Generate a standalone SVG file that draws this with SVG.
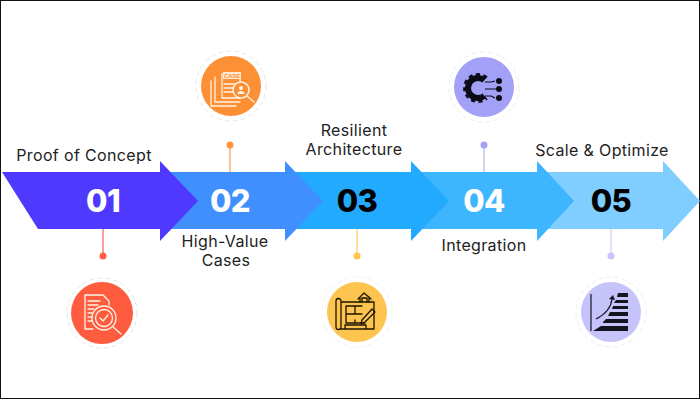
<svg xmlns="http://www.w3.org/2000/svg" width="700" height="400" viewBox="0 0 700 400">
<style>
.lbl{font-family:"Inter","Noto Sans",sans-serif;font-size:16px;letter-spacing:.35px;fill:#222;text-anchor:middle}
.num{font-family:"Inter","Noto Sans",sans-serif;font-size:31px;font-weight:800;letter-spacing:-.6px;text-anchor:middle}
.ring{fill:none;stroke:#e6e6e6;stroke-width:1;stroke-dasharray:5 3}
.lw{fill:none;stroke:#fff3e6;stroke-width:1.3;stroke-linejoin:round;stroke-linecap:round}
.lk{fill:none;stroke:#1c1400;stroke-width:1.3;stroke-linejoin:round;stroke-linecap:round}
</style>
<rect x="0.5" y="0.5" width="699" height="398" fill="#fff" stroke="#111"/>
<g id="connectors" stroke-width="1.2">
<path d="M103 229V256" stroke="#f2644c"/><circle cx="103" cy="256" r="3.5" fill="#ff5f45"/>
<path d="M230 172V145" stroke="#fb9a48"/><circle cx="230" cy="145" r="3.5" fill="#fd9540"/>
<path d="M357 229V256" stroke="#fdca5c"/><circle cx="357" cy="256" r="3.5" fill="#fdc650"/>
<path d="M484 172V145" stroke="#b5b2f8"/><circle cx="484" cy="145" r="3.5" fill="#a5a2f6"/>
<path d="M611 229V256" stroke="#cfcdfb"/><circle cx="611" cy="256" r="3.5" fill="#c6c4fa"/>
</g>
<g id="node5"><path d="M540 172H663V161L700 201L663 241V229H540Z" fill="#80ceff"/><text class="num" x="611" y="212" fill="#000">05</text><text class="lbl" x="602" y="156">Scale &amp; Optimize</text></g>
<g id="node4"><path d="M415 172H537V161L574 201L537 241V229H415Z" fill="#3db5ff"/><text class="num" x="484" y="212" fill="#fff">04</text><text class="lbl" x="484" y="251">Integration</text></g>
<g id="node3"><path d="M290 172H411V161L449 201L411 241V229H290Z" fill="#22aaff"/><text class="num" x="357" y="212" fill="#000">03</text><text class="lbl" x="354" y="136">Resilient</text><text class="lbl" x="354" y="155">Architecture</text></g>
<g id="node2"><path d="M165 172H285V161L323 201L285 241V229H165Z" fill="#3f8fff"/><text class="num" x="230" y="212" fill="#fff">02</text><text class="lbl" x="225" y="247">High-Value</text><text class="lbl" x="226" y="266">Cases</text></g>
<g id="node1"><path d="M2 172H160V161L198 201L160 241V229H38Z" fill="#4f39ff"/><text class="num" x="103" y="212" fill="#fff">01</text><text class="lbl" x="84" y="161">Proof of Concept</text></g>
<g id="icon1"><circle class="ring" cx="102" cy="313" r="35"/><circle cx="102" cy="313" r="31" fill="#ff5c3f"/>
<path class="lw" d="M85 295H103L109 301V305M85 295V329H93M88 301H100M88 305H98M88 309H94M88 313H92M88 317H92M88 321H92"/>
<circle class="lw" cx="104" cy="318" r="12"/><circle class="lw" cx="104" cy="318" r="8.5"/><path class="lw" d="M100 318L103 321L108 315M113 327L121 334"/></g>
<g id="icon2"><circle class="ring" cx="231" cy="86" r="35"/><circle cx="231" cy="86" r="30" fill="#fd8f35"/>
<path class="lw" d="M211 81V106H236M215 77V102H240M222 74V98H240V75H222"/>
<rect x="223" y="72" width="18" height="7" fill="#ffe9d2"/><text x="232" y="78" font-family="Liberation Sans,sans-serif" font-size="6" font-weight="700" fill="#fd8f35" text-anchor="middle">CASE</text>
<path class="lw" d="M224 84H236M224 88H236M224 92H234"/><circle cx="241" cy="90" r="8" fill="#fd8f35" stroke="#fff3e6" stroke-width="1.5"/><circle cx="241" cy="88" r="2" fill="#fff3e6"/><path d="M237.500 94a3.500 3 0 0 1 7 0Z" fill="#fff3e6"/><path class="lw" stroke-width="2" d="M247 96L254 102"/></g>
<g id="icon3"><circle class="ring" cx="357" cy="312" r="35" style="stroke:#f2f2f2"/><circle cx="357" cy="312" r="30" fill="#fdc44f"/>
<path class="lk" d="M341 301a2.500 2.500 0 0 0-5 0V327a2.500 2.500 0 0 0 5 0V302H374V329H340M346 306H362M346 306V323M355 306V314M346 314H362M355 320V323M346 323H365M345 325H366V329H345Z"/>
<path class="lk" d="M358 299L364 293L371 299M360 297V302M369 297V302M362 302V298H367V302"/>
<path class="lk" d="M362 320L372 309L375 312L365 322L361 324Z"/></g>
<g id="icon4"><circle class="ring" cx="484" cy="87" r="35" style="stroke:#eeeeee"/><circle cx="484" cy="87" r="30" fill="#a3a0f7"/>
<path d="M484.400 80.300A10 10 0 1 0 484.400 95.700" fill="none" stroke="#0c0c18" stroke-width="6"/>
<path d="M486.700 77.600A13.500 13.500 0 1 0 486.700 98.400" fill="none" stroke="#0c0c18" stroke-width="3" stroke-dasharray="4 3.400"/>
<path d="M485 82H491L495 81M485 89H496M485 96H491L495 98" fill="none" stroke="#0c0c18" stroke-width="1.200"/>
<circle cx="499" cy="81" r="3" fill="#0c0c18"/><circle cx="499" cy="89" r="3" fill="#0c0c18"/><circle cx="499" cy="98" r="3" fill="#0c0c18"/></g>
<g id="icon5"><circle class="ring" cx="611" cy="312" r="35" style="stroke:#eeeeee"/><circle cx="611" cy="312" r="30" fill="#c5c3fa"/>
<path d="M591 294V331" fill="none" stroke="#15151f" stroke-width="1.200"/>
<path d="M593 331L601 326H628V331ZM603 322L606 319H628V323H603ZM608 316L610 312H628V316ZM612 309L613 306H628V309ZM614 303L616 300H628V303ZM617 297L618 293H628V297Z" fill="#15151f"/>
<path d="M596 319C604 315 611 308 612 299" fill="none" stroke="#15151f" stroke-width="1.200"/><path d="M609 299L613 295L615 300Z" fill="#15151f"/></g>
</svg>
